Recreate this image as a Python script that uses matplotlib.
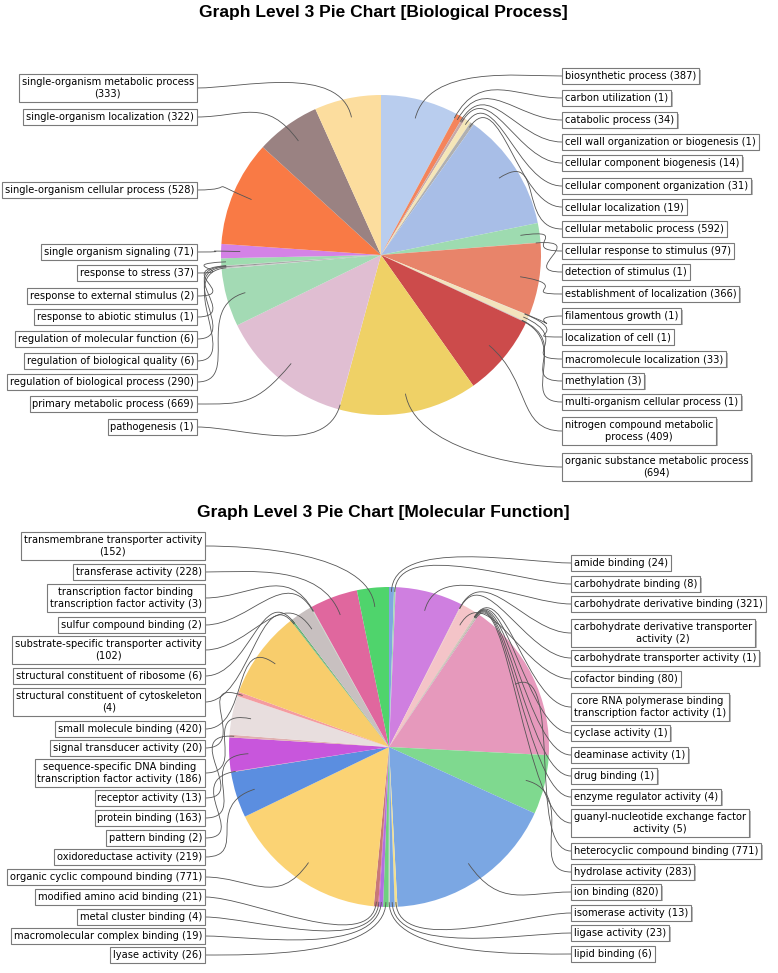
import numpy as np
import matplotlib
matplotlib.use("Agg")
import matplotlib.pyplot as plt
from matplotlib.path import Path
from matplotlib.patches import PathPatch
import matplotlib.patheffects as pe

W, H = 778, 973

## Données : Biological Process (ordre de la tarte, sens horaire depuis midi)
bp_names = ["biosynthetic process", "carbon utilization", "catabolic process",
            "cell wall organization or biogenesis", "cellular component biogenesis",
            "cellular component organization", "cellular localization",
            "cellular metabolic process", "cellular response to stimulus",
            "detection of stimulus", "establishment of localization",
            "filamentous growth", "localization of cell", "macromolecule localization",
            "methylation", "multi-organism cellular process",
            "nitrogen compound metabolic\nprocess", "organic substance metabolic process\n",
            "pathogenesis", "primary metabolic process", "regulation of biological process",
            "regulation of biological quality", "regulation of molecular function",
            "response to abiotic stimulus", "response to external stimulus",
            "response to stress", "single organism signaling",
            "single-organism cellular process", "single-organism localization",
            "single-organism metabolic process\n"]
bp_counts = [387, 1, 34, 1, 14, 31, 19, 592, 97, 1, 366, 1, 1, 33, 3, 1, 409, 694,
             1, 669, 290, 6, 6, 1, 2, 37, 71, 528, 322, 333]
bp_colors = ["#b9cdee", "#9fdcb0", "#f4845c", "#a0a0a0", "#c8a8a8", "#f5e6b8", "#b0b0b0",
             "#a8bee7", "#9edbb0", "#f0a080", "#e8846a", "#c0c0c0", "#d8c0a0", "#f3e3bd",
             "#b8b8b8", "#e0c0d0", "#cc4b4b", "#efd166", "#e0c0d0", "#e0bed2", "#a3dab4",
             "#c8c8c8", "#909090", "#d0d0d0", "#b0b0b0", "#9fdcb0", "#d482e6", "#f97a45",
             "#9a8282", "#fcdd9e"]

## Données : Molecular Function
mf_names = ["amide binding", "carbohydrate binding", "carbohydrate derivative binding",
            "carbohydrate derivative transporter\nactivity", "carbohydrate transporter activity",
            "cofactor binding", "core RNA polymerase binding\ntranscription factor activity",
            "cyclase activity", "deaminase activity", "drug binding",
            "enzyme regulator activity", "guanyl-nucleotide exchange factor\nactivity",
            "heterocyclic compound binding", "hydrolase activity", "ion binding",
            "isomerase activity", "ligase activity", "lipid binding", "lyase activity",
            "macromolecular complex binding", "metal cluster binding",
            "modified amino acid binding", "organic cyclic compound binding",
            "oxidoreductase activity", "pattern binding", "protein binding",
            "receptor activity", "sequence-specific DNA binding\ntranscription factor activity",
            "signal transducer activity", "small molecule binding",
            "structural constituent of cytoskeleton\n", "structural constituent of ribosome",
            "substrate-specific transporter activity\n", "sulfur compound binding",
            "transcription factor binding\ntranscription factor activity",
            "transferase activity", "transmembrane transporter activity\n"]
mf_counts = [24, 8, 321, 2, 1, 80, 1, 1, 1, 1, 4, 5, 771, 283, 820, 13, 23, 6, 26, 19, 4,
             21, 771, 219, 2, 163, 13, 186, 20, 420, 4, 6, 102, 2, 3, 228, 152]
mf_colors = ["#7fa8e0", "#9fdcb0", "#cf7fe0", "#f0b0b0", "#c0c0c0", "#f4c4c8", "#e0e0a0",
             "#a0a0a0", "#c0a0c0", "#909090", "#d0c0a0", "#b0b0b0", "#e699bc", "#7fd98f",
             "#7ba7e3", "#f5e08a", "#7ba7e3", "#c8c8c8", "#6fd080", "#b070e0", "#d050c0",
             "#c87878", "#fbd374", "#5b8ee0", "#f0a0a0", "#c856dc", "#e0b0b0", "#e8dede",
             "#f49ca0", "#f8cd6c", "#60b070", "#55aa66", "#c8c0c0", "#a0c0a0", "#d0d0d0",
             "#e0679e", "#4fd46c"]

## Mise en page (pixels depuis le haut)
bp_right_y = [76, 98, 120, 142, 163, 186, 207, 229, 251, 272, 294, 316, 337, 359, 381,
              402, 431, 467]
bp_left_y = [427, 404, 382, 361, 339, 317, 296, 273, 252, 190, 117, 88]
mf_right_y = [563, 584, 604, 633, 658, 679, 707, 733, 755, 776, 797, 823, 851, 872, 892,
              913, 933, 954]
mf_left_y = [955, 936, 917, 897, 877, 857, 838, 818, 798, 773, 748, 729, 702, 676, 650,
             625, 598, 572, 546]

fig = plt.figure(figsize=(W / 100, H / 100), dpi=100)
ax = fig.add_axes([0, 0, 1, 1])


def label_text(name, n):
    sep = "" if name.endswith("\n") else " "
    return f"{name}{sep}({n})"


def draw_pie(names, counts, colors, cx, cy, r, right_y, left_y, x_right, x_left):
    wedges, _ = ax.pie(counts, colors=colors, startangle=90, counterclock=False,
                       center=(cx, H - cy), radius=r, wedgeprops=dict(linewidth=0))
    ys = list(right_y) + list(left_y)
    for i, w in enumerate(wedges):
        th = np.deg2rad((w.theta1 + w.theta2) / 2)
        u = np.array([np.cos(th), np.sin(th)])
        small = (w.theta2 - w.theta1) < 4
        end = np.array([cx, H - cy]) + u * r * (0.97 if small else 0.88)
        yy = H - ys[i]
        if i < len(right_y):
            t = ax.text(x_right + 3, yy, label_text(names[i], counts[i]), ha="left",
                        va="center", multialignment="center", fontsize=7.1, zorder=5)
            a = np.array([x_right, yy])
            p1 = a + np.array([-45, 0])
        else:
            t = ax.text(x_left - 3, yy, label_text(names[i], counts[i]), ha="right",
                        va="center", multialignment="center", fontsize=7.1, zorder=5)
            a = np.array([x_left, yy])
            p1 = a + np.array([45, 0])
        t.set_bbox(dict(boxstyle="square,pad=0.28", fc="white", ec="#7a7a7a", lw=0.8))
        t.get_bbox_patch().set_path_effects(
            [pe.SimplePatchShadow(offset=(1.2, -1.2), shadow_rgbFace="0.55", alpha=0.6),
             pe.Normal()])
        p2 = end + u * 55
        path = Path([a, p1, p2, end], [Path.MOVETO, Path.CURVE4, Path.CURVE4, Path.CURVE4])
        ax.add_patch(PathPatch(path, fc="none", ec="#555555", lw=0.6, zorder=3))


draw_pie(bp_names, bp_counts, bp_colors, 381, 255, 160, bp_right_y, bp_left_y, 562, 197)
draw_pie(mf_names, mf_counts, mf_colors, 389, 747, 160, mf_right_y, mf_left_y, 571, 205)

title_font = ["Liberation Sans Narrow", "Liberation Sans", "DejaVu Sans"]
ax.text(383, H - 13, "Graph Level 3 Pie Chart [Biological Process]", ha="center",
        va="center", fontsize=12.5, fontweight="bold", family=title_font)
ax.text(383, H - 512, "Graph Level 3 Pie Chart [Molecular Function]", ha="center",
        va="center", fontsize=12.5, fontweight="bold", family=title_font)

ax.set_xlim(0, W)
ax.set_ylim(0, H)
ax.set_aspect("auto")
ax.axis("off")
fig.savefig("out.png", dpi=100)
